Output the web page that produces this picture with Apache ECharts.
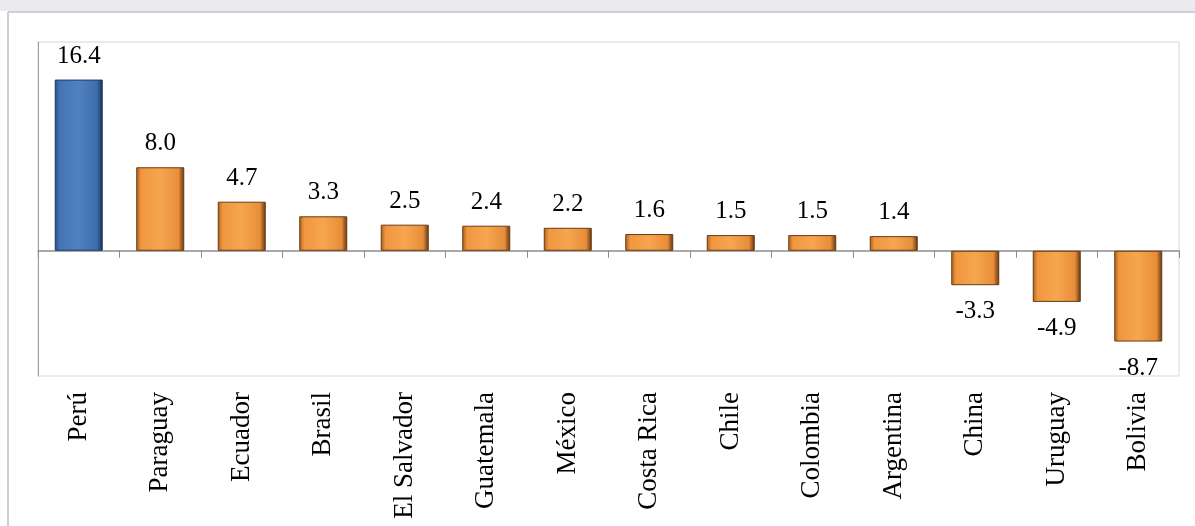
<!DOCTYPE html>
<html>
<head>
<meta charset="utf-8">
<script src="https://cdn.jsdelivr.net/npm/echarts@6/dist/echarts.min.js"></script>
<style>
html,body{margin:0;padding:0;background:#fff;}
#chart{width:1195px;height:526px;}
</style>
</head>
<body>
<div id="chart"></div>
<script>
const categories = ['Perú','Paraguay','Ecuador','Brasil','El Salvador','Guatemala','México','Costa Rica','Chile','Colombia','Argentina','China','Uruguay','Bolivia'];
const values = [16.4, 8.0, 4.7, 3.3, 2.5, 2.4, 2.2, 1.6, 1.5, 1.5, 1.4, -3.3, -4.9, -8.7];
const highlightIndex = 0;

const FONT = '"Liberation Serif", "Times New Roman", serif';

function grad(left, mid, center, mid2, right) {
  return new echarts.graphic.LinearGradient(0, 0, 1, 0, [
    {offset: 0, color: left},
    {offset: 0.1, color: mid},
    {offset: 0.5, color: center},
    {offset: 0.88, color: mid2},
    {offset: 1, color: right}
  ]);
}
const orange = grad('#a8601e', '#f0963f', '#f6a650', '#e88d3a', '#5e3410');
const blue = grad('#2a4f85', '#4474b4', '#4f80c0', '#3f6dab', '#16305a');

const chart = echarts.init(document.getElementById('chart'));
chart.setOption({
  animation: false,
  backgroundColor: '#fff',
  graphic: [
    {type: 'rect', shape: {x: 0, y: 0, width: 1195, height: 11}, style: {fill: '#ebebef'}, silent: true, z: -10},
    {type: 'line', shape: {x1: 8, y1: 12, x2: 1195, y2: 12}, style: {stroke: '#cfcfcf', lineWidth: 2}, silent: true},
    {type: 'line', shape: {x1: 8, y1: 12, x2: 8, y2: 526}, style: {stroke: '#cfcfcf', lineWidth: 2}, silent: true}
  ],
  grid: {left: 38, right: 16, top: 42, bottom: 150, show: true, borderColor: '#d6d6d6', borderWidth: 1},
  xAxis: [
    {
      type: 'category', data: categories,
      axisLine: {onZero: true, lineStyle: {color: '#8c8c8c', width: 1.5}},
      axisTick: {show: true, length: 7, lineStyle: {color: '#8c8c8c'}},
      axisLabel: {show: false}
    },
    {
      type: 'category', data: categories, position: 'bottom',
      axisLine: {show: false, onZero: false},
      axisTick: {show: false},
      axisLabel: {rotate: 90, margin: 16, color: '#000', fontFamily: FONT, fontSize: 27, interval: 0}
    }
  ],
  yAxis: {
    type: 'value', min: -12, max: 20, interval: 4,
    axisLine: {show: true, lineStyle: {color: '#a0a0a0'}},
    axisTick: {show: false}, axisLabel: {show: false}, splitLine: {show: false}
  },
  series: [{
    type: 'bar', xAxisIndex: 0, barWidth: 48,
    data: values.map((v, i) => ({
      value: v,
      itemStyle: {color: i === highlightIndex ? blue : orange, borderColor: i === highlightIndex ? '#1d3a66' : '#6a3a12', borderWidth: 1},
      label: {position: v >= 0 ? 'top' : 'bottom', distance: v >= 0 ? 11 : 14}
    })),
    label: {
      show: true, color: '#000', fontFamily: FONT, fontSize: 25,
      formatter: p => p.value.toFixed(1)
    }
  }]
});
</script>
</body>
</html>
